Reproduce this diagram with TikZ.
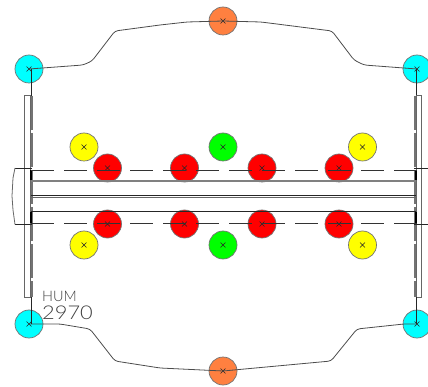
\documentclass[tikz,border=0pt]{standalone}
\usepackage{fontspec}
\setmainfont{Lato Light}
\definecolor{boltcyan}{RGB}{0,255,255}
\definecolor{boltorange}{RGB}{255,128,64}
\definecolor{boltyellow}{RGB}{255,255,0}
\definecolor{boltgreen}{RGB}{0,255,0}
\definecolor{boltred}{RGB}{255,0,0}
\tikzset{
  x=1pt,y=-1pt,
  bolt/.style={circle,draw=black!55,line width=0.7pt,minimum size=28pt,inner sep=0pt,
    path picture={\draw[black!85,line width=0.4pt]
      ([shift={(-2.4pt,-2.4pt)}]path picture bounding box.center)--([shift={(2.4pt,2.4pt)}]path picture bounding box.center)
      ([shift={(-2.4pt,2.4pt)}]path picture bounding box.center)--([shift={(2.4pt,-2.4pt)}]path picture bounding box.center);}},
  cyanbolt/.style={bolt,fill=boltcyan},
  orangebolt/.style={bolt,fill=boltorange},
  yellowbolt/.style={bolt,fill=boltyellow},
  greenbolt/.style={bolt,fill=boltgreen},
  redbolt/.style={bolt,fill=boltred},
  outline/.style={draw=black!70,line width=0.8pt,rounded corners=3pt},
  steel/.style={draw=black!85,line width=0.8pt},
  heavy/.style={draw=black!50,line width=1.6pt},
  weld/.style={draw=black!55,line width=2pt,dash pattern=on 34pt off 3pt},
  bar/.style={draw=black!60,line width=0.9pt},
  boltline/.style={draw=black!80,line width=0.7pt,dash pattern=on 23pt off 10pt},
  lbl/.style={inner sep=0pt,anchor=base west,text=black!75}
}
\begin{document}
\begin{tikzpicture}
\useasboundingbox (0,0) rectangle (428,387);
% bolts
\node[cyanbolt] (cTL) at (29,69) {};
\node[cyanbolt] (cTR) at (417,69) {};
\node[cyanbolt] (cBL) at (29,324) {};
\node[cyanbolt] (cBR) at (417,324) {};
\node[orangebolt] (oT) at (223,21) {};
\node[orangebolt] (oB) at (223,371) {};
\node[yellowbolt] (yTL) at (84,147) {};
\node[yellowbolt] (yTR) at (362.5,147) {};
\node[yellowbolt] (yBL) at (84,245) {};
\node[yellowbolt] (yBR) at (362.5,245) {};
\node[greenbolt] (gT) at (223,147) {};
\node[greenbolt] (gB) at (223,245) {};
\node[redbolt] (r1) at (107.5,168) {};
\node[redbolt] (r2) at (184.5,168) {};
\node[redbolt] (r3) at (262,168) {};
\node[redbolt] (r4) at (339,168) {};
\node[redbolt] (r5) at (107.5,224) {};
\node[redbolt] (r6) at (184.5,224) {};
\node[redbolt] (r7) at (262,224) {};
\node[redbolt] (r8) at (339,224) {};
% outline of the sheet
\path[outline] (cTL.center) -- (83,65) -- (92,61) -- (115,31) -- (160,25) -- (187,22) -- (oT.center);
\path[outline] (oT.center) -- (261,22) -- (332,31) -- (354,60) -- (364,65) -- (cTR.center);
\path[outline] (cBL.center) -- (60,324) -- (90,329) -- (115,361) -- (160,368) -- (oB.center);
\path[outline] (oB.center) -- (331,361) -- (357,329) -- (404,324) -- (cBR.center);
% end plates
\coordinate (plTLa) at (24.5,95.5);
\coordinate (plTLb) at (30,95.5);
\coordinate (plBLa) at (24.5,297);
\coordinate (plBLb) at (30,297);
\coordinate (plTRa) at (416,95.5);
\coordinate (plTRb) at (421,95.5);
\coordinate (plBRa) at (416,297);
\coordinate (plBRb) at (421,297);
\path[bar] (plBLa) -- (plTLa) -- (plTLb) -- (plBLb) -- cycle;
\path[bar] (plBRa) -- (plTRa) -- (plTRb) -- (plBRb) -- cycle;
\path[weld] (32,96) -- (32,297);
\path[weld] (414.5,96) -- (414.5,297);
\draw[steel] (31,69) -- (31,96);
\draw[steel] (31,324) -- (31,297);
\draw[steel] (416,69) -- (416,95.5);
\draw[steel] (416,324) -- (416,297);
% beam
\path[heavy] (31,181) -- (416,181);
\path[steel] (31,195.5) -- (416,195.5);
\path[bar] (31,197.5) -- (416,197.5);
\path[steel] (31,211.5) -- (416,211.5);
\draw[black,line width=1.3pt] (31,170) -- (31,180);
\draw[black,line width=1.3pt] (31,212) -- (31,223);
\draw[black,line width=1.3pt] (416,170) -- (416,180);
\draw[black,line width=1.3pt] (416,212) -- (416,223);
% bolt lines
\path[boltline] (31,170) -- (417,170);
\path[boltline] (31,223.5) -- (417,223.5);
% column stub
\path[steel] (32,168) -- (15,168);
\path[steel] (32,224.5) -- (15,224.5);
\path[draw=black!60,line width=0.8pt] (15,168) -- (13,178) -- (12,196) -- (13,210) -- (15,224.5);
\path[steel] (414,168) -- (428,168);
\path[steel] (414,224.5) -- (428,224.5);
% label
\node[lbl,font=\fontsize{14.5}{14.5}\selectfont] (hum) at (42,301.5) {HUM};
\node[lbl,font=\fontsize{19}{19}\selectfont,xscale=1.15] (num) at (42,319.5) {2970};
\end{tikzpicture}
\end{document}
